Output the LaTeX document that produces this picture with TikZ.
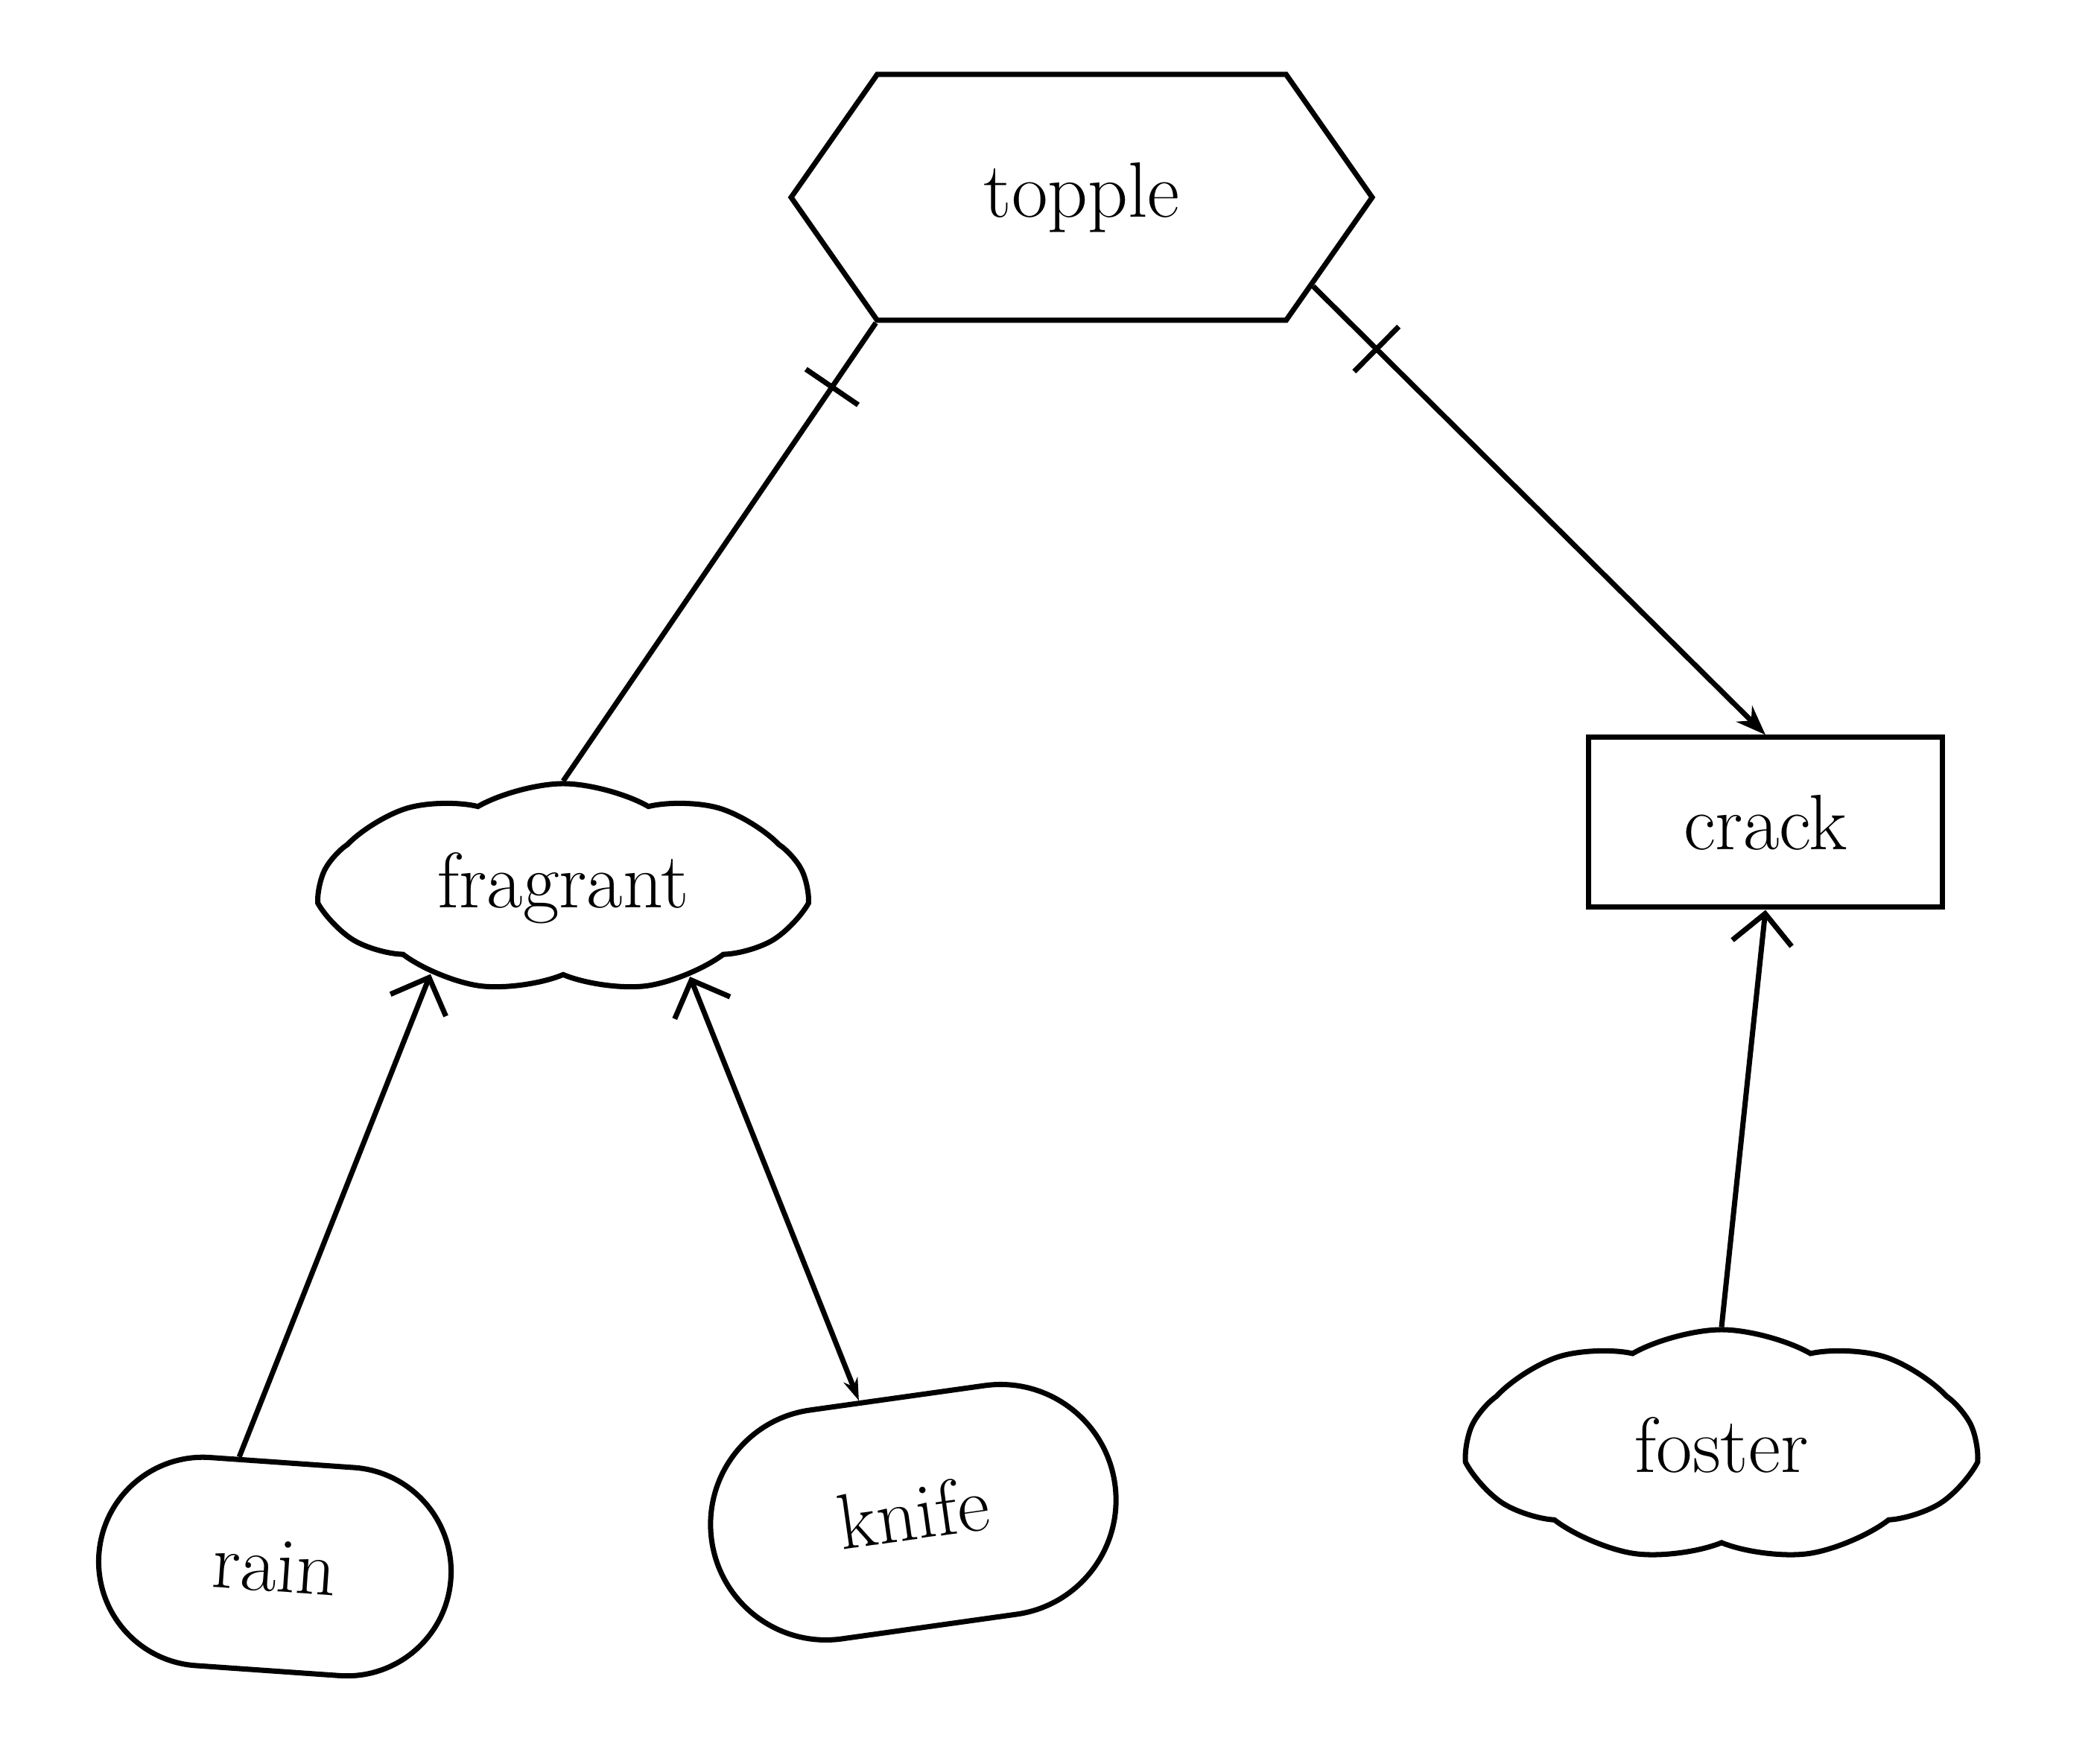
\documentclass[tikz,border=0pt]{standalone}
\usepackage{tikz}
\usetikzlibrary{shapes.misc,shapes.geometric,shapes.symbols,arrows.meta,calc,positioning}

\begin{document}
\begin{tikzpicture}[every node/.style={draw,align=center,line width=2pt,font=\fontsize{30}{36}\selectfont},
  line width=2pt,
  tick/.style={minimum width=0pt,minimum height=0.85cm,inner sep=0pt,sloped},
  blob/.style={cloud,cloud puffs=9,cloud puff arc=60,aspect=2.4,inner sep=0pt},
  openhead/.style={-{Straight Barb[length=0.4cm,width=0.8cm]}}]
\useasboundingbox (0,0) rectangle (28.11,23.68);
\node [signal,signal to=west and east,signal pointer angle=110,minimum width=7.8cm,minimum height=3.3cm] (Topple) at (14.52,21.03) {topple};
\node [blob,minimum width=6.5cm,minimum height=2.8cm] (Fragrant) at (7.56,11.76) {fragrant};
\node [minimum width=4.75cm,minimum height=2.28cm] (Crack) at (23.70,12.64) {crack};
\node [rounded rectangle,minimum width=4.97cm,minimum height=2.8cm,rotate=-4] (Rain) at (3.69,2.65) {rain};
\node [rounded rectangle,minimum width=5.7cm,minimum height=3.1cm,rotate=8] (Knife) at (12.26,3.38) {knife};
\node [blob,aspect=2.2,minimum width=6.8cm,minimum height=3.1cm] (Foster) at (23.11,4.28) {foster};

\draw (Topple.south west) -- node [pos=0.14,tick] {} (Fragrant.north);
\draw [-{Stealth[length=0.4cm,width=0.3cm]}] (Topple.-21) -- node [pos=0.14,tick] {} (Crack.north);
\draw [openhead] (Rain.112) -- (Fragrant.213);
\draw [{Stealth[length=0.3cm,width=0.2cm]}-{Straight Barb[length=0.4cm,width=0.8cm]}] (Knife.108) -- (Fragrant.325);
\draw [openhead] (Foster.north) -- (Crack.south);
\end{tikzpicture}
\end{document}
